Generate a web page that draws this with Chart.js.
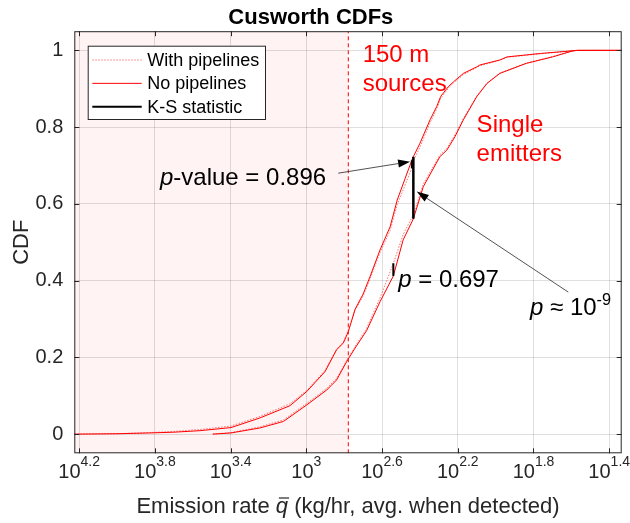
<!DOCTYPE html>
<html lang="en">
<head>
<meta charset="UTF-8">
<title>Cusworth CDFs</title>
<script src="https://cdn.jsdelivr.net/npm/chart.js"></script>
<style>
  html, body { margin: 0; padding: 0; background: #fff; }
</style>
</head>
<body>
<canvas id="cdfChart" width="630" height="523"></canvas>
<script>
// Emission rates (kg/hr) and empirical CDFs, 150 m sources
const sourcesRate      = [16800, 10000, 6760, 5010, 3640, 2500, 1760, 1220, 995, 796, 692, 638, 600, 553, 501, 461, 408, 361, 331, 277, 272, 251, 222, 205, 195, 178, 167, 148, 126, 121, 95, 87, 58, 39, 37, 21.6];
const sourcesNoPipe    = [0, 0.001, 0.003, 0.005, 0.009, 0.017, 0.042, 0.074, 0.111, 0.163, 0.220, 0.237, 0.267, 0.325, 0.365, 0.410, 0.480, 0.540, 0.610, 0.714, 0.723, 0.758, 0.819, 0.853, 0.880, 0.905, 0.918, 0.940, 0.957, 0.962, 0.975, 0.983, 0.992, 0.999, 1, 1];
const sourcesWithPipe  = [0, 0.001, 0.004, 0.007, 0.012, 0.021, 0.046, 0.079, 0.114, 0.166, 0.221, 0.240, 0.268, 0.322, 0.360, 0.404, 0.473, 0.530, 0.598, 0.693, 0.712, 0.748, 0.811, 0.847, 0.875, 0.901, 0.915, 0.937, 0.955, 0.960, 0.974, 0.982, 0.991, 0.999, 1, 1];

// Single emitters
const singleRate       = [3119, 2500, 1758, 1321, 995, 780, 692, 612, 553, 480, 408, 347, 308, 272, 241, 197, 181, 164, 148, 126, 111, 95, 69, 50, 39, 37, 21.6];
const singleNoPipe     = [0, 0.003, 0.016, 0.033, 0.076, 0.115, 0.141, 0.189, 0.224, 0.270, 0.345, 0.412, 0.506, 0.561, 0.645, 0.723, 0.740, 0.775, 0.819, 0.879, 0.914, 0.940, 0.966, 0.983, 0.999, 1, 1];
const singleWithPipe   = [0, 0.004, 0.019, 0.037, 0.080, 0.119, 0.145, 0.192, 0.228, 0.276, 0.355, 0.445, 0.520, 0.572, 0.652, 0.728, 0.745, 0.780, 0.823, 0.881, 0.915, 0.941, 0.967, 0.984, 0.999, 1, 1];

// K-S statistic segments
const ksRate = [272, 277, 347];
const ksLow  = [0.561, 0.693, 0.412];
const ksHigh = [0.723, 0.714, 0.445];

const detectionLimit = 600;
const xTickExp = ['4.2', '3.8', '3.4', '3', '2.6', '2.2', '1.8', '1.4'];
const yTicks = [0, 0.2, 0.4, 0.6, 0.8, 1];

const FONT = '"Liberation Sans", Arial, Helvetica, sans-serif';
const AX = '#262626';

const pts = (xs, ys) => xs.map((x, i) => ({ x: x, y: ys[i] }));

const curveStyle = (dotted) => ({
  borderColor: dotted ? 'rgba(255,70,70,0.75)' : '#ff0000',
  borderWidth: 1,
  borderDash: dotted ? [1.5, 1.5] : [],
  pointRadius: 0,
  tension: 0,
  fill: false
});

const datasets = [];
ksRate.forEach((r, i) => {
  datasets.push({
    data: [{ x: r, y: ksLow[i] }, { x: r, y: ksHigh[i] }],
    borderColor: '#000', borderWidth: i === 0 ? 2.5 : 2, pointRadius: 0, order: 0
  });
});
datasets.push(Object.assign({ data: pts(sourcesRate, sourcesWithPipe), order: 2 }, curveStyle(true)));
datasets.push(Object.assign({ data: pts(sourcesRate, sourcesNoPipe), order: 1 }, curveStyle(false)));
datasets.push(Object.assign({ data: pts(singleRate, singleWithPipe), order: 2 }, curveStyle(true)));
datasets.push(Object.assign({ data: pts(singleRate, singleNoPipe), order: 1 }, curveStyle(false)));
datasets.push({
  data: [{ x: detectionLimit, y: -0.05 }, { x: detectionLimit, y: 1.05 }],
  borderColor: '#ff0000', borderWidth: 1, borderDash: [4, 3], pointRadius: 0, order: 3
});

// text labels and arrows, placed in data units
const notes = [
  { rate: 5930, cdf: 0.649, color: '#000', size: 24, parts: [['p', 'i'], ['-value = 0.896']] },
  { rate: 327, cdf: 0.384, color: '#000', size: 24, parts: [['p', 'i'], [' = 0.697']] },
  { rate: 65.8, cdf: 0.311, color: '#000', size: 24, parts: [['p', 'i'], [' \u2248 10'], ['-9', 's']] },
  { rate: 504, cdf: 0.969, color: '#ff0000', size: 24, parts: [['150 m']] },
  { rate: 504, cdf: 0.894, color: '#ff0000', size: 24, parts: [['sources']] },
  { rate: 126, cdf: 0.788, color: '#ff0000', size: 24, parts: [['Single']] },
  { rate: 126, cdf: 0.7125, color: '#ff0000', size: 24, parts: [['emitters']] }
];
const arrows = [
  { from: [678, 0.680], to: [283, 0.710] },
  { from: [41.3, 0.370], to: [261, 0.632] }
];

function drawParts(ctx, parts, x, y, size, color) {
  ctx.fillStyle = color;
  ctx.textBaseline = 'alphabetic';
  ctx.textAlign = 'left';
  parts.forEach(p => {
    const sup = p[1] === 's';
    const fs = sup ? size * 0.68 : size;
    ctx.font = (p[1] === 'i' ? 'italic ' : '') + fs + 'px ' + FONT;
    ctx.fillText(p[0], x, sup ? y - size * 0.42 : y);
    x += ctx.measureText(p[0]).width;
  });
}

const decor = {
  id: 'decor',
  beforeDraw(chart) {
    const { ctx, chartArea: a, scales } = chart;
    const xl = scales.x.getPixelForValue(detectionLimit);
    ctx.save();
    ctx.fillStyle = '#fff3f3';
    ctx.fillRect(a.left, a.top, xl - a.left, a.bottom - a.top);
    ctx.restore();
  },
  afterDraw(chart) {
    const { ctx, chartArea: a, scales } = chart;
    const sx = scales.x, sy = scales.y;
    ctx.save();

    // arrows
    arrows.forEach(ar => {
      const x0 = sx.getPixelForValue(ar.from[0]), y0 = sy.getPixelForValue(ar.from[1]);
      const x1 = sx.getPixelForValue(ar.to[0]), y1 = sy.getPixelForValue(ar.to[1]);
      const ang = Math.atan2(y1 - y0, x1 - x0);
      const L = 12, W = 4;
      ctx.strokeStyle = AX; ctx.lineWidth = 0.8;
      ctx.beginPath(); ctx.moveTo(x0, y0);
      ctx.lineTo(x1 - L * Math.cos(ang), y1 - L * Math.sin(ang)); ctx.stroke();
      ctx.fillStyle = '#000';
      ctx.beginPath();
      ctx.moveTo(x1, y1);
      ctx.lineTo(x1 - L * Math.cos(ang) + W * Math.sin(ang), y1 - L * Math.sin(ang) - W * Math.cos(ang));
      ctx.lineTo(x1 - L * Math.cos(ang) - W * Math.sin(ang), y1 - L * Math.sin(ang) + W * Math.cos(ang));
      ctx.closePath(); ctx.fill();
    });

    // annotations
    notes.forEach(n => {
      drawParts(ctx, n.parts, sx.getPixelForValue(n.rate), sy.getPixelForValue(n.cdf), n.size, n.color);
    });

    // axes box and inward ticks
    ctx.strokeStyle = AX; ctx.lineWidth = 1;
    ctx.strokeRect(a.left + 0.5, a.top + 0.5, a.right - a.left - 1, a.bottom - a.top - 1);
    ctx.beginPath();
    xTickExp.forEach(e => {
      const x = Math.round(sx.getPixelForValue(Math.pow(10, parseFloat(e)))) + 0.5;
      ctx.moveTo(x, a.bottom); ctx.lineTo(x, a.bottom - 5);
      ctx.moveTo(x, a.top); ctx.lineTo(x, a.top + 5);
    });
    yTicks.forEach(v => {
      const y = Math.round(sy.getPixelForValue(v)) + 0.5;
      ctx.moveTo(a.left, y); ctx.lineTo(a.left + 5, y);
      ctx.moveTo(a.right, y); ctx.lineTo(a.right - 5, y);
    });
    ctx.stroke();

    // x tick labels 10^e
    ctx.fillStyle = AX;
    ctx.textBaseline = 'alphabetic';
    ctx.textAlign = 'left';
    xTickExp.forEach(e => {
      const x = sx.getPixelForValue(Math.pow(10, parseFloat(e)));
      ctx.font = '20px ' + FONT;
      const wb = ctx.measureText('10').width;
      ctx.font = '14px ' + FONT;
      const we = ctx.measureText(e).width;
      const x0 = x - (wb + we) / 2;
      ctx.font = '20px ' + FONT;
      ctx.fillText('10', x0, 478);
      ctx.font = '14px ' + FONT;
      ctx.fillText(e, x0 + wb, 466);
    });

    // x axis title with q-bar
    const t1 = 'Emission rate ', t2 = 'q', t3 = ' (kg/hr, avg. when detected)';
    ctx.font = '22px ' + FONT;
    const w1 = ctx.measureText(t1).width, w3 = ctx.measureText(t3).width;
    ctx.font = 'italic 22px ' + FONT;
    const w2 = ctx.measureText(t2).width;
    let tx = (a.left + a.right) / 2 - (w1 + w2 + w3) / 2;
    const ty = 513;
    ctx.font = '22px ' + FONT; ctx.fillText(t1, tx, ty);
    ctx.font = 'italic 22px ' + FONT; ctx.fillText(t2, tx + w1, ty);
    ctx.strokeStyle = AX; ctx.lineWidth = 1.2;
    ctx.beginPath(); ctx.moveTo(tx + w1 + 3, ty - 15); ctx.lineTo(tx + w1 + w2 + 1, ty - 15); ctx.stroke();
    ctx.font = '22px ' + FONT; ctx.fillText(t3, tx + w1 + w2, ty);

    // legend
    const lx = 87.7, ly = 45.7, lw = 177.3, lh = 73.3;
    ctx.fillStyle = '#fff';
    ctx.fillRect(lx, ly, lw, lh);
    ctx.strokeStyle = AX; ctx.lineWidth = 1;
    ctx.strokeRect(lx + 0.5, ly + 0.5, lw, lh);
    const rows = [
      { label: 'With pipelines', color: 'rgba(255,70,70,0.75)', width: 1, dash: [1.5, 1.5] },
      { label: 'No pipelines', color: '#ff0000', width: 1, dash: [] },
      { label: 'K-S statistic', color: '#000', width: 2, dash: [] }
    ];
    rows.forEach((r, i) => {
      const y = 60 + i * 23.35;
      ctx.strokeStyle = r.color; ctx.lineWidth = r.width; ctx.setLineDash(r.dash);
      ctx.beginPath(); ctx.moveTo(92.3, y); ctx.lineTo(141.7, y); ctx.stroke();
      ctx.setLineDash([]);
      ctx.fillStyle = '#000';
      ctx.font = '18px ' + FONT;
      ctx.textBaseline = 'middle';
      ctx.fillText(r.label, 147.3, y + 1);
    });
    ctx.restore();
  }
};

new Chart(document.getElementById('cdfChart'), {
  type: 'line',
  data: { datasets: datasets },
  options: {
    responsive: false,
    animation: false,
    parsing: true,
    layout: { padding: { left: 0, right: 8.3, top: 0, bottom: 0 } },
    plugins: {
      legend: { display: false },
      tooltip: { enabled: false },
      title: {
        display: true,
        text: 'Cusworth CDFs',
        color: '#000',
        font: { family: FONT, size: 22, weight: 'bold', lineHeight: 1 },
        padding: { top: 7, bottom: 2.2 }
      }
    },
    scales: {
      x: {
        type: 'logarithmic',
        reverse: true,
        bounds: 'data',
        min: Math.pow(10, 1.334),
        max: Math.pow(10, 4.2256),
        afterBuildTicks: s => { s.ticks = xTickExp.map(e => ({ value: Math.pow(10, parseFloat(e)) })); },
        afterFit: s => { s.height = 69.7; },
        ticks: { display: false },
        grid: { color: 'rgba(38,38,38,0.15)', drawTicks: false },
        border: { display: false }
      },
      y: {
        min: -0.05,
        max: 1.05,
        afterBuildTicks: s => { s.ticks = yTicks.map(v => ({ value: v })); },
        afterFit: s => { s.width = 74.3; },
        ticks: {
          color: AX,
          padding: 11,
          font: { family: FONT, size: 20 },
          callback: v => String(Math.round(v * 10) / 10)
        },
        title: {
          display: true,
          text: 'CDF',
          color: AX,
          font: { family: FONT, size: 22 },
          padding: { top: 8.8, bottom: 0 }
        },
        grid: { color: 'rgba(38,38,38,0.15)', drawTicks: false },
        border: { display: false }
      }
    }
  },
  plugins: [decor]
});
</script>
</body>
</html>
